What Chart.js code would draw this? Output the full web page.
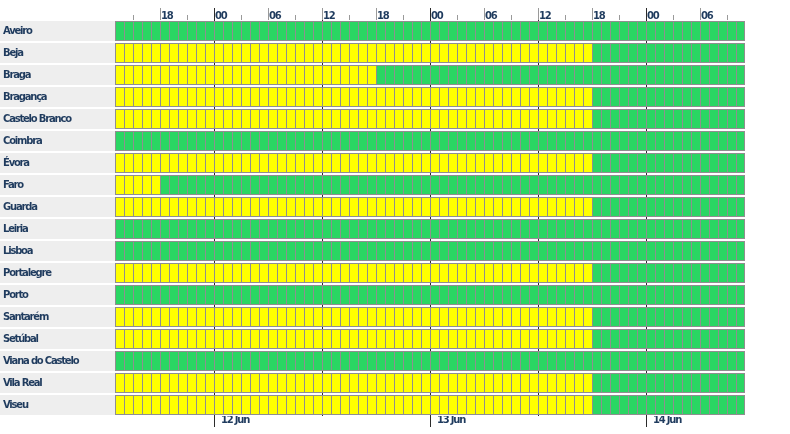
<!DOCTYPE html>
<html lang="pt">
<head>
<meta charset="utf-8">
<title>Avisos por distrito</title>
<script src="https://cdn.jsdelivr.net/npm/chart.js@4.4.1/dist/chart.umd.min.js"></script>
<style>
  html, body { margin: 0; padding: 0; background: #fff; }
  #wrap { width: 790px; height: 434px; }
</style>
</head>
<body>
<div id="wrap"><canvas id="avisos"></canvas></div>
<script>
const regioes = ['Aveiro', 'Beja', 'Braga', 'Bragança', 'Castelo Branco', 'Coimbra', 'Évora', 'Faro', 'Guarda',
  'Leiria', 'Lisboa', 'Portalegre', 'Porto', 'Santarém', 'Setúbal', 'Viana do Castelo', 'Vila Real', 'Viseu'];
// horas com aviso amarelo, contadas desde o início da grelha (11 Jun 13h)
const horasAmarelo = [0, 53, 29, 53, 53, 0, 53, 5, 53, 0, 0, 53, 0, 53, 53, 0, 53, 53];
const horaInicio = 13;
const totalHoras = 70;
const dias = ['11 Jun', '12 Jun', '13 Jun', '14 Jun'];

const VERDE = '#2ad663';
const AMARELO = '#ffff00';
const AZUL = '#1f3b5e';
const ESCURO = '#2b2b2b';
const FONTE = "'DejaVu Sans', sans-serif";

const horaDe = v => (horaInicio + v) % 24;
const marcas = passo => {
  const out = [];
  for (let v = 0; v <= totalHoras; v++) if (horaDe(v) % passo === 0) out.push(v);
  return out;
};

const datasets = [];
for (let h = 0; h < totalHoras; h++) {
  datasets.push({
    data: regioes.map(() => 1),
    backgroundColor: regioes.map((_, r) => h < horasAmarelo[r] ? AMARELO : VERDE),
    borderColor: '#8f8f8f',
    borderWidth: { top: 1, bottom: 1, left: 1, right: h === totalHoras - 1 ? 1 : 0 },
    borderSkipped: false,
    inflateAmount: 0,
    barPercentage: 20 / 22,
    categoryPercentage: 1
  });
}

// faixa cinzenta por trás do nome de cada distrito + texto mais apertado
const faixaEtiquetas = {
  id: 'faixaEtiquetas',
  beforeDraw(chart) {
    const { ctx, chartArea } = chart;
    ctx.save();
    ctx.fillStyle = '#eeeeee';
    chart.getDatasetMeta(0).data.forEach(bar => {
      ctx.fillRect(0, bar.y - bar.height / 2, chartArea.left, bar.height);
    });
    ctx.restore();
    ctx.letterSpacing = '-1.2px';
  },
  afterDraw(chart) {
    chart.ctx.letterSpacing = '0px';
  }
};

const fonte = { family: FONTE, size: 10, weight: 'bold' };

new Chart(document.getElementById('avisos'), {
  type: 'bar',
  data: { labels: regioes, datasets },
  plugins: [faixaEtiquetas],
  options: {
    indexAxis: 'y',
    responsive: true,
    maintainAspectRatio: false,
    animation: false,
    layout: { padding: { left: 3, right: 45, top: 0, bottom: 0 } },
    plugins: { legend: { display: false }, tooltip: { enabled: false } },
    scales: {
      x: {
        type: 'linear', position: 'bottom', min: 0, max: totalHoras, stacked: true, z: 1,
        afterBuildTicks: s => { s.ticks = marcas(12).map(v => ({ value: v })); },
        afterFit: s => { s.height = 18; },
        grid: {
          color: ESCURO, lineWidth: 1, tickLength: 11,
          tickColor: c => horaDe(c.tick.value) === 0 ? ESCURO : 'rgba(0,0,0,0)'
        },
        border: { display: false },
        ticks: {
          autoSkip: false, maxRotation: 0, align: 'start', labelOffset: 7, padding: -13,
          color: AZUL, font: fonte,
          callback: v => horaDe(v) === 0 ? dias[Math.floor((horaInicio + v) / 24)] : ''
        }
      },
      horas: {
        type: 'linear', position: 'top', min: 0, max: totalHoras, weight: 1,
        afterBuildTicks: s => { s.ticks = marcas(6).map(v => ({ value: v })); },
        afterFit: s => { s.height = 20; },
        grid: {
          drawOnChartArea: false, tickLength: 12,
          tickColor: c => horaDe(c.tick.value) === 0 ? ESCURO : '#9a9a9a'
        },
        border: { display: false },
        ticks: {
          autoSkip: false, maxRotation: 0, align: 'start', labelOffset: 1, padding: -14,
          color: AZUL, font: fonte,
          callback: v => String(horaDe(v)).padStart(2, '0')
        }
      },
      horasMenores: {
        type: 'linear', position: 'top', min: 0, max: totalHoras, weight: 0,
        afterBuildTicks: s => { s.ticks = marcas(3).filter(v => horaDe(v) % 6 !== 0).map(v => ({ value: v })); },
        afterFit: s => { s.height = 0; },
        grid: { drawOnChartArea: false, tickLength: 5, tickColor: '#9a9a9a' },
        border: { display: false },
        ticks: { display: false }
      },
      y: {
        stacked: true,
        afterFit: s => { s.width = 112; },
        grid: { display: false },
        border: { display: false },
        ticks: { crossAlign: 'far', padding: 0, color: AZUL, font: fonte }
      }
    }
  }
});
</script>
</body>
</html>
